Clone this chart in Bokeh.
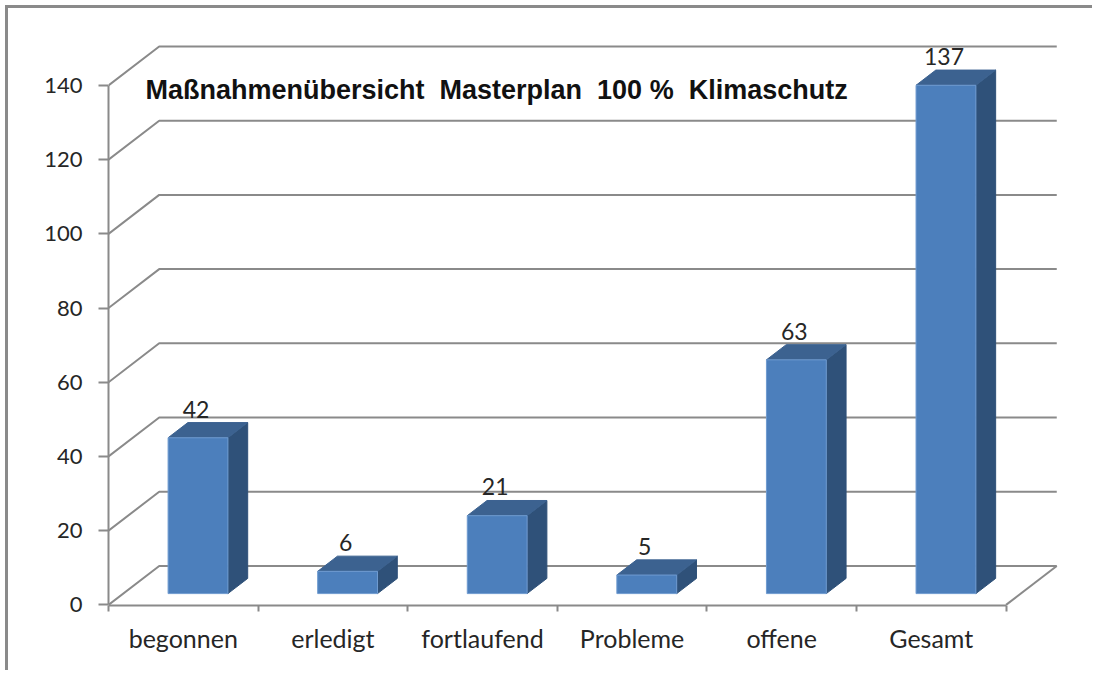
from bokeh.plotting import figure
from bokeh.models import Range1d, FixedTicker, LinearAxis, Label, ColumnDataSource
from bokeh.core.properties import value
from bokeh.embed import file_html
from bokeh.resources import INLINE

categories = ["begonnen", "erledigt", "fortlaufend", "Probleme", "offene", "Gesamt"]
values = [42, 6, 21, 5, 63, 137]
y_ticks = [0, 20, 40, 60, 80, 100, 120, 140]
title_text = "Maßnahmenübersicht \u00a0Masterplan \u00a0100 % \u00a0Klimaschutz"

GRID = "#8a8a8a"
TEXT = "#262626"
FONT = "Lato"
FRONT = "#4c7fbc"
SIDE = "#2f5179"
TOP = "#3c6290"

# 3D projection of the chart box, in data units
DEPTH_X = 0.339   # categories
DEPTH_Y = 10.5    # value units
BAR_W = 0.40
BAR_FRONT = 0.29  # share of depth where a bar's front face stands
BAR_BACK = 0.68   # share of depth where a bar's back face stands

p = figure(width=1087, height=665,
           x_range=Range1d(0, 6.364), y_range=Range1d(-0.16, 157.5),
           tools="", toolbar_location=None, output_backend="svg",
           min_border_left=100, min_border_right=35, min_border_top=12, min_border_bottom=68,
           x_axis_type=None, y_axis_type=None,
           background_fill_color="white", border_fill_color="white")
p.outline_line_color = None
p.grid.visible = False
p.styles = {"border-left": "3px solid #8a8a8a", "border-top": "3px solid #8a8a8a",
            "margin-left": "5px", "margin-top": "5px"}

# back wall + floor lines
n = len(categories)
wall_xs = [[0, DEPTH_X, n + DEPTH_X] for _ in y_ticks]
wall_ys = [[t, t + DEPTH_Y, t + DEPTH_Y] for t in y_ticks]
wall_xs.append([n + DEPTH_X, n])
wall_ys.append([DEPTH_Y, 0])
p.multi_line(wall_xs, wall_ys, line_color=GRID, line_width=2)

# bars
fx, fy, sx, sy, tx, ty = [], [], [], [], [], []
for i, v in enumerate(values):
    x0 = i + 0.5 - BAR_W / 2 + BAR_FRONT * DEPTH_X
    x1 = x0 + BAR_W
    y0 = BAR_FRONT * DEPTH_Y
    y1 = y0 + v
    dx = (BAR_BACK - BAR_FRONT) * DEPTH_X
    dy = (BAR_BACK - BAR_FRONT) * DEPTH_Y
    fx.append([x0, x1, x1, x0]); fy.append([y0, y0, y1, y1])
    sx.append([x1, x1 + dx, x1 + dx, x1]); sy.append([y0, y0 + dy, y1 + dy, y1])
    tx.append([x0, x1, x1 + dx, x0 + dx]); ty.append([y1, y1, y1 + dy, y1 + dy])
p.patches(sx, sy, fill_color=SIDE, line_color=SIDE, line_width=1)
p.patches(tx, ty, fill_color=TOP, line_color=TOP, line_width=1)
p.patches(fx, fy, fill_color=FRONT, line_color="#6f9bd0", line_width=1)

# value labels
lab = ColumnDataSource(dict(
    x=[i + 0.5 + BAR_FRONT * DEPTH_X for i in range(n)],
    y=[v + BAR_BACK * DEPTH_Y for v in values],
    t=[str(v) for v in values]))
p.text("x", "y", text="t", source=lab, text_align="center", text_baseline="bottom",
       text_font=value(FONT), text_font_size="23px", text_color=TEXT, x_offset=-2, y_offset=-5)

# axes
yax = LinearAxis(ticker=FixedTicker(ticks=y_ticks), bounds=(0, 140))
yax.axis_line_color = GRID; yax.axis_line_width = 2
yax.major_tick_line_color = GRID; yax.major_tick_line_width = 2
yax.major_tick_out = 10; yax.major_tick_in = 0
yax.minor_tick_line_color = None
yax.major_label_standoff = 16
yax.major_label_text_font = FONT; yax.major_label_text_font_size = "22px"
yax.major_label_text_color = TEXT
p.add_layout(yax, "left")

centers = [i + 0.5 for i in range(n)]
xax = LinearAxis(ticker=FixedTicker(ticks=centers, minor_ticks=list(range(n + 1))), bounds=(0, n))
xax.major_label_overrides = {c: categories[i] for i, c in enumerate(centers)}
xax.axis_line_color = GRID; xax.axis_line_width = 2
xax.major_tick_line_color = None
xax.major_tick_out = 0; xax.major_tick_in = 0
xax.minor_tick_line_color = GRID; xax.minor_tick_line_width = 2
xax.minor_tick_out = 6; xax.minor_tick_in = 0
xax.major_label_standoff = 11
xax.major_label_text_font = FONT; xax.major_label_text_font_size = "25px"
xax.major_label_text_color = TEXT
p.add_layout(xax, "below")

p.add_layout(Label(x=37, y=516, x_units="screen", y_units="screen", text=title_text,
                   text_font="Liberation Sans", text_font_style="bold", text_font_size="27px",
                   text_color="#111111", text_baseline="middle"))

open("out.html", "w").write(file_html(p, INLINE))
